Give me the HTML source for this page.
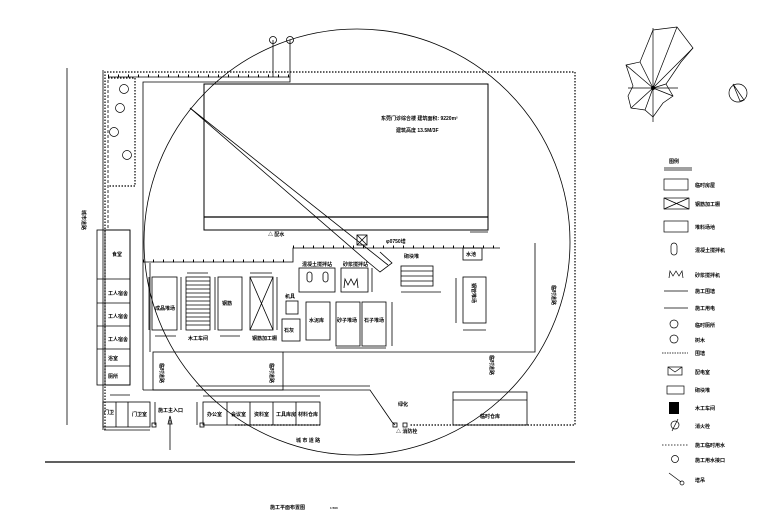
<!DOCTYPE html>
<html><head><meta charset="utf-8"><style>
html,body{margin:0;padding:0;background:#fff;}
svg{display:block;}
text{font-family:"Liberation Sans","Noto Sans CJK SC",sans-serif;fill:#000;font-weight:bold;}
</style></head><body>
<svg width="780" height="522" viewBox="0 0 780 522" xmlns="http://www.w3.org/2000/svg">
<g fill="none" stroke="#000" stroke-width="0.8">
<line x1="67" y1="68" x2="67" y2="425"/>
<line x1="45" y1="462" x2="575" y2="462" stroke-width="1.2"/>
<g stroke-dasharray="1.5,1.5" stroke-width="1.2">
<polyline points="105,430 105,72 575,72 575,425 410,425"/>
<line x1="235" y1="425" x2="320" y2="425"/>
</g>
<polyline points="103,430 103,70"/>
<polyline points="108,78 135,78 135,186 108,186" stroke-dasharray="1.5,1.5" stroke-width="1.2"/>
<line x1="108" y1="80" x2="108" y2="228" stroke-dasharray="3,2"/>
<line x1="108" y1="77" x2="290" y2="77"/>
<line x1="108" y1="76" x2="290" y2="76" stroke-dasharray="1,9" stroke-width="3"/>
<polyline points="143,390 143,82 290,82 290,40"/>
<line x1="273" y1="77" x2="273" y2="40"/>
<circle cx="273" cy="40" r="3.5"/><circle cx="290" cy="40" r="3.5"/>
<rect x="204" y="84" width="284" height="146" stroke-width="1"/>
<line x1="204" y1="217" x2="488" y2="217" stroke-width="1.2"/>
<line x1="488" y1="232" x2="470" y2="232"/>
<line x1="190" y1="108" x2="388" y2="265"/>
<line x1="190" y1="108" x2="368" y2="262"/>
<polyline points="368,262 380,272 392,263 380,252"/>
<rect x="357" y="235" width="10" height="10"/>
<line x1="357" y1="235" x2="367" y2="245"/><line x1="367" y1="235" x2="357" y2="245"/>
<circle cx="357" cy="242" r="213" stroke-width="0.8"/>
<polyline points="143,262 293,262 293,248 500,248"/>
<line x1="143" y1="261" x2="293" y2="261" stroke-dasharray="1,9" stroke-width="3"/>
<line x1="293" y1="247" x2="500" y2="247" stroke-dasharray="1,9" stroke-width="3"/>
<polyline points="150,263 150,352"/>
<rect x="152" y="277" width="25" height="53"/>
<rect x="186" y="277" width="24" height="53"/>
<rect x="218" y="277" width="24" height="53"/>
<rect x="250" y="277" width="23" height="53"/>
<line x1="250" y1="277" x2="273" y2="330"/><line x1="273" y1="277" x2="250" y2="330"/>
<line x1="187" y1="273" x2="208" y2="273"/><line x1="250" y1="273" x2="272" y2="273"/>
<line x1="155" y1="336" x2="176" y2="336"/><line x1="220" y1="336" x2="240" y2="336"/>
<line x1="149" y1="277" x2="149" y2="330"/><line x1="181" y1="277" x2="181" y2="330"/>
<line x1="215" y1="277" x2="215" y2="330"/><line x1="277" y1="277" x2="277" y2="330"/>
<rect x="299" y="268" width="36" height="24"/>
<rect x="341" y="268" width="27" height="24"/>
<line x1="372" y1="268" x2="372" y2="292"/>
<rect x="286" y="301" width="12" height="13"/>
<rect x="282" y="319" width="18" height="22"/>
<rect x="306" y="302" width="24" height="38"/>
<rect x="336" y="302" width="24" height="44"/>
<rect x="362" y="302" width="24" height="44"/>
<line x1="392" y1="302" x2="392" y2="346"/>
<line x1="336" y1="348" x2="386" y2="348"/>
<rect x="307" y="272" width="5" height="10" rx="2.5"/><rect x="323" y="272" width="5" height="10" rx="2.5"/>
<polyline points="344,288 345,279 348,285 351,279 354,285 357,279 358,288"/>
<rect x="401" y="266" width="32" height="20"/>
<line x1="401" y1="271" x2="433" y2="271"/><line x1="401" y1="276" x2="433" y2="276"/><line x1="401" y1="281" x2="433" y2="281"/>
<line x1="401" y1="292" x2="441" y2="292"/>
<rect x="463" y="248" width="19" height="12"/>
<rect x="463" y="277" width="23" height="46"/>
<line x1="456" y1="278" x2="456" y2="323"/><line x1="463" y1="330" x2="486" y2="330"/>
<polyline points="283,352 535,352 535,243"/>
<rect x="153" y="352" width="130" height="38"/>
<polyline points="143,390 370,390 392,422 395,425"/>
<line x1="196" y1="386" x2="370" y2="386"/>
<rect x="97" y="230" width="33" height="155"/>
<rect x="105" y="230" width="25" height="155"/>
<line x1="97" y1="279" x2="130" y2="279"/><line x1="97" y1="303" x2="130" y2="303"/>
<line x1="97" y1="326" x2="130" y2="326"/><line x1="97" y1="349" x2="130" y2="349"/>
<line x1="105" y1="366" x2="130" y2="366"/>
<line x1="110" y1="395" x2="130" y2="395"/>
<rect x="103" y="402" width="47" height="25"/>
<line x1="116" y1="402" x2="116" y2="427"/><line x1="128" y1="402" x2="128" y2="427"/>
<line x1="104" y1="430" x2="150" y2="430"/>
<line x1="155" y1="402" x2="155" y2="425"/>
<line x1="170" y1="450" x2="170" y2="420"/>
<path d="M168,424 L170,416 L172,424 Z"/>
<rect x="203" y="402" width="117" height="23"/>
<line x1="227" y1="402" x2="227" y2="425"/><line x1="250" y1="402" x2="250" y2="425"/>
<line x1="273" y1="402" x2="273" y2="425"/><line x1="296" y1="402" x2="296" y2="425"/>
<line x1="203" y1="396" x2="320" y2="396"/>
<line x1="197" y1="402" x2="197" y2="425"/>
<rect x="453" y="392" width="74" height="33"/>
<line x1="453" y1="400" x2="527" y2="400"/>
<rect x="403" y="423" width="4" height="4"/><rect x="393" y="423" width="4" height="4"/>
<rect x="152" y="423" width="4" height="4"/><rect x="200" y="423" width="4" height="4"/>
</g>
<g stroke="#000" stroke-width="0.8">
<line x1="186" y1="281" x2="210" y2="281"/><line x1="186" y1="285" x2="210" y2="285"/><line x1="186" y1="289" x2="210" y2="289"/><line x1="186" y1="293" x2="210" y2="293"/><line x1="186" y1="297" x2="210" y2="297"/><line x1="186" y1="301" x2="210" y2="301"/><line x1="186" y1="305" x2="210" y2="305"/><line x1="186" y1="309" x2="210" y2="309"/><line x1="186" y1="313" x2="210" y2="313"/><line x1="186" y1="317" x2="210" y2="317"/><line x1="186" y1="321" x2="210" y2="321"/><line x1="186" y1="325" x2="210" y2="325"/>
</g>
<g fill="none" stroke="#000" stroke-width="0.7">
<circle cx="124" cy="89" r="4.5"/><circle cx="120" cy="108" r="4.5"/><circle cx="114" cy="132" r="4.5"/><circle cx="127" cy="155" r="4.5"/>
</g>
<g font-size="5">
<text x="381" y="120">东莞门诊综合楼 建筑面积: 9220m²</text>
<text x="396" y="132">建筑高度 13.5M/3F</text>
<text x="386" y="243">φ0750塔</text>
<text x="112" y="256">食堂</text>
<text x="108" y="295">工人宿舍</text>
<text x="108" y="318">工人宿舍</text>
<text x="108" y="341">工人宿舍</text>
<text x="108" y="360">浴室</text>
<text x="108" y="378">厕所</text>
<text x="104" y="414">门卫</text>
<text x="132" y="416">门卫室</text>
<text x="158" y="412">施工主入口</text>
<text x="155" y="310">成品堆场</text>
<text x="222" y="305">钢筋</text>
<text x="188" y="340">木工车间</text>
<text x="252" y="340">钢筋加工棚</text>
<text x="302" y="266">混凝土搅拌站</text>
<text x="343" y="266">砂浆搅拌站</text>
<text x="285" y="298">机具</text>
<text x="284" y="332">石灰</text>
<text x="309" y="322">水泥库</text>
<text x="337" y="322">砂子堆场</text>
<text x="364" y="322">石子堆场</text>
<text x="404" y="258">砌块堆</text>
<text x="466" y="256">水池</text>
<text x="207" y="416">办公室</text>
<text x="231" y="416">会议室</text>
<text x="254" y="416">资料室</text>
<text x="276" y="416">工具库房</text>
<text x="298" y="416">材料仓库</text>
<text x="480" y="418">临时仓库</text>
<text x="398" y="406">绿化</text>
<text x="396" y="433">△ 消防栓</text>
<text x="296" y="442">城 市 道 路</text>
<text x="268" y="236">△ 配水</text>
<text x="270" y="509">施工平面布置图</text>
<text x="330" y="509" font-size="3">1:500</text>
</g>
<g font-size="5">
<text transform="translate(160,363) rotate(90)">临时道路</text>
<text transform="translate(270,363) rotate(90)">临时道路</text>
<text transform="translate(490,355) rotate(90)">临时道路</text>
<text transform="translate(552,285) rotate(90)">临时道路</text>
<text transform="translate(472,283) rotate(90)">钢管堆场</text>
<text transform="translate(82,210) rotate(90)">城市道路</text>
</g>
<g fill="none" stroke="#000" stroke-width="0.7">
<polygon points="653,30 677,27 693,48 681,62 666,84 673,96 663,103 653,117 645,110 631,108 628,96 633,86 626,65 640,62"/>
<line x1="653" y1="28" x2="653" y2="122"/><line x1="628" y1="88" x2="678" y2="88"/>
<line x1="653" y1="88" x2="677" y2="27"/><line x1="653" y1="88" x2="693" y2="48"/><line x1="653" y1="88" x2="640" y2="62"/><line x1="653" y1="88" x2="626" y2="65"/><line x1="653" y1="88" x2="631" y2="108"/><line x1="653" y1="88" x2="645" y2="110"/><line x1="653" y1="88" x2="673" y2="96"/><line x1="653" y1="88" x2="666" y2="84"/>
<circle cx="738" cy="93" r="9"/>
<path d="M733,84 L744,100 L740,101 Z"/>
</g>
<circle cx="653" cy="88" r="2"/>
<g fill="none" stroke="#000" stroke-width="0.7">
<line x1="664" y1="168" x2="692" y2="168"/><line x1="664" y1="170" x2="692" y2="170"/>
<rect x="664" y="179" width="24" height="11"/>
<rect x="664" y="198" width="25" height="11"/><line x1="664" y1="198" x2="689" y2="209"/><line x1="689" y1="198" x2="664" y2="209"/>
<rect x="664" y="221" width="24" height="11"/>
<rect x="671" y="243" width="6" height="12" rx="3"/>
<polyline points="669,278 670,271 673,276 676,271 679,276 682,271 683,278"/>
<line x1="664" y1="291" x2="688" y2="291"/>
<line x1="664" y1="308" x2="688" y2="308"/>
<circle cx="674" cy="324" r="4"/><circle cx="674" cy="339" r="4"/>
<line x1="662" y1="353" x2="688" y2="353" stroke-dasharray="1.5,1"/>
<rect x="668" y="367" width="14" height="8"/><polyline points="668,367 675,372 682,367"/>
<rect x="667" y="386" width="17" height="8"/>
<circle cx="675" cy="425" r="4"/><line x1="672" y1="431" x2="678" y2="419"/>
<line x1="662" y1="445" x2="688" y2="445" stroke-dasharray="1.5,1.5"/>
<circle cx="675" cy="459" r="3.5"/>
<line x1="669" y1="473" x2="681" y2="482"/><circle cx="682" cy="483" r="2"/>
</g>
<rect x="669" y="402" width="10" height="12" fill="#000"/>
<g font-size="5">
<text x="669" y="163">图例</text>
<text x="695" y="187">临时房屋</text>
<text x="695" y="206">钢筋加工棚</text>
<text x="695" y="229">堆料场地</text>
<text x="695" y="252">混凝土搅拌机</text>
<text x="695" y="277">砂浆搅拌机</text>
<text x="695" y="293">施工围墙</text>
<text x="695" y="310">施工用电</text>
<text x="695" y="327">临时厕所</text>
<text x="695" y="342">树木</text>
<text x="695" y="355">围墙</text>
<text x="695" y="374">配电室</text>
<text x="695" y="392">砌块堆</text>
<text x="695" y="410">木工车间</text>
<text x="695" y="428">消火栓</text>
<text x="695" y="447">施工临时用水</text>
<text x="695" y="462">施工用水接口</text>
<text x="695" y="482">塔吊</text>
</g>
</svg>
</body></html>
